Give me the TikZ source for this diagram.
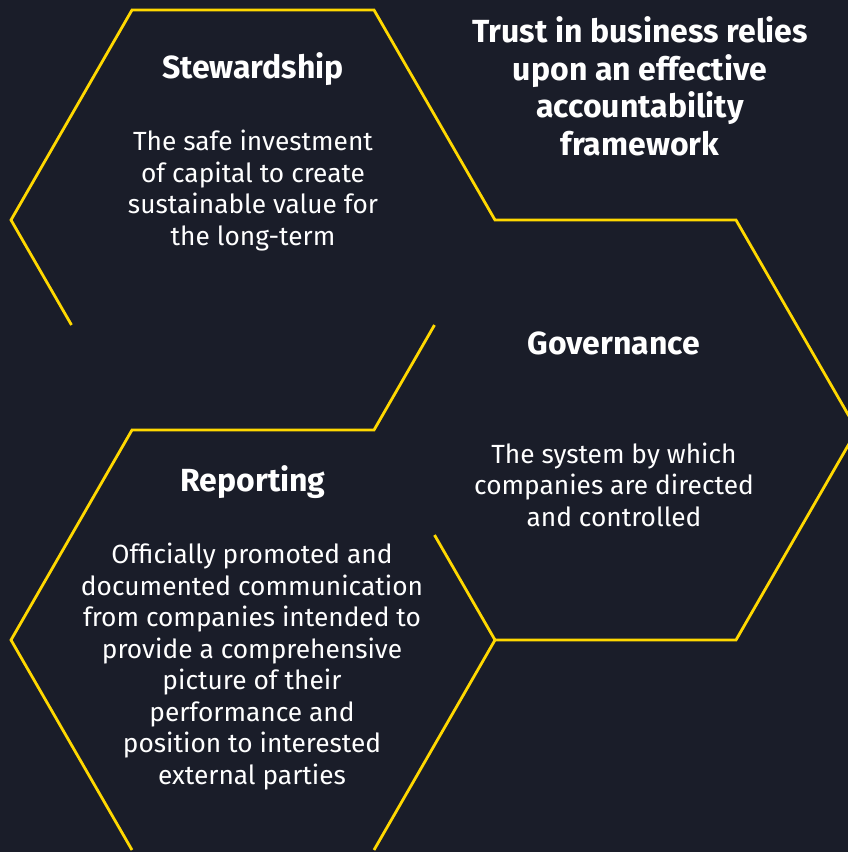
\documentclass[tikz,border=0pt]{standalone}
\usepackage{fontspec}
\setmainfont{Fira Sans}
\usetikzlibrary{calc}
\definecolor{bgdark}{HTML}{1A1D29}
\definecolor{eyyellow}{HTML}{FFD800}

\begin{document}
\begin{tikzpicture}[x=1pt, y=-1pt,
  hexline/.style={draw=eyyellow, line width=2.8pt, line join=miter, line cap=butt},
  headtext/.style={text=white, font=\bfseries\fontsize{32}{37.4}\selectfont,
    align=center, inner sep=0pt, anchor=base},
  bodytext/.style={text=white, font=\fontsize{26.3}{31.5}\selectfont,
    align=center, inner sep=0pt, anchor=base}]

% canvas
\fill[bgdark] (0,0) rectangle (848,852);
\useasboundingbox (0,0) rectangle (848,852);
\clip (0,0) rectangle (848,852);

% Stewardship hexagon, centre (253,220)
\coordinate (S-l)  at (11,220);
\coordinate (S-tl) at (132,10);
\coordinate (S-tr) at (374,10);
\coordinate (S-r)  at (495,220);
\coordinate (S-br) at (374,430);
\coordinate (S-bl) at (132,430);
% Governance hexagon, centre (615,430)
\coordinate (G-tr) at (736,220);
\coordinate (G-r)  at (857,430);
\coordinate (G-br) at (736,640);
\coordinate (G-bl) at (495,640);
% Reporting hexagon, centre (253,640)
\coordinate (R-l)  at (11,640);
\coordinate (R-bl) at (132,850);
\coordinate (R-br) at (374,850);
% open ends of the partly drawn edges
\coordinate (S-lmid) at ($(S-l)!0.5!(S-bl)$);
\coordinate (SG-mid) at ($(S-r)!0.5!(S-br)$);
\coordinate (GR-mid) at ($(S-br)!0.5!(G-bl)$);

\draw[hexline] (S-lmid) -- (S-l) -- (S-tl) -- (S-tr) -- (S-r) -- (G-tr) -- (G-r)
  -- (G-br) -- (G-bl) -- (R-br);
\draw[hexline] (SG-mid) -- (S-br) -- (S-bl) -- (R-l) -- (R-bl);
\draw[hexline] (GR-mid) -- (G-bl);

% texts (multi-line nodes sit on the baseline of their last line)
\node[headtext] (trust) at (640,155)
  {Trust in business relies\\upon an effective\\accountability\\framework};

\node[headtext] (stew-h) at (253,78) {Stewardship};
\node[bodytext] (stew-b) at (253,245)
  {The safe investment\\of capital to create\\sustainable value for\\the long-term};

\node[headtext] (gov-h) at (614,354) {Governance};
\node[bodytext] (gov-b) at (614,526)
  {The system by which\\companies are directed\\and controlled};

\node[headtext] (rep-h) at (253,491) {Reporting};
\node[bodytext, font=\fontsize{26.3}{31.5}\selectfont] (rep-b) at (252,784)
  {Officially promoted and\\documented communication\\from companies intended to\\provide a comprehensive\\picture of their\\performance and\\position to interested\\external parties};
\end{tikzpicture}
\end{document}
